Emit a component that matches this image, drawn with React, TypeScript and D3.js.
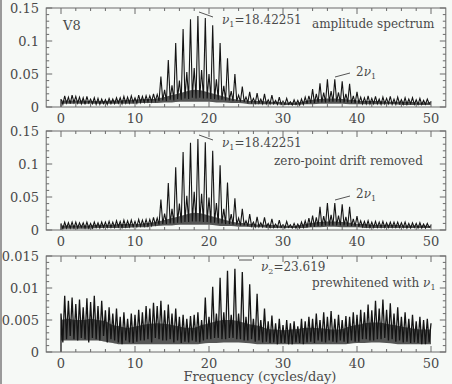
import React from 'react';
import * as d3 from 'd3';

// Frequency grid for the traces: 0 .. 50 c/d in steps of 0.25
const FREQ_STEP = 0.25;

// Panel 1: amplitude spectrum (units of 0.001)
const ampSpectrum = [
  12,4,17,6, 15,5,18,7, 16,6,15,5, 14,4,16,6, 12,5,14,4,
  13,4,12,5, 11,4,13,5, 12,5,14,6, 14,5,16,6, 15,6,17,7,
  14,6,18,7, 16,7,17,8, 17,8,20,9, 19,9,46,10, 26,9,71,11,
  33,10,97,12, 40,11,118,13, 53,12,133,14, 59,13,138,14, 56,13,135,13,
  50,12,124,12, 42,11,97,11, 32,10,74,10, 24,9,50,9, 18,8,31,8,
  15,7,23,7, 13,6,21,6, 12,5,20,5, 11,5,18,5, 10,4,15,4,
  9,4,13,4, 8,3,11,4, 10,3,12,4, 15,5,17,6, 27,6,20,7,
  36,7,22,7, 42,8,24,8, 42,8,22,7, 39,7,20,7, 35,6,17,6,
  23,6,15,5, 14,5,17,5, 13,5,16,5, 12,4,15,5, 13,5,16,4,
  12,4,15,5, 11,4,14,4, 12,5,14,4, 11,4,13,4, 10,4,12,5,
  8,
];

// Panel 2: zero-point drift removed (units of 0.001)
const driftRemoved = [
  10,2,12,3, 11,3,12,3, 12,3,11,4, 11,3,12,3, 10,3,12,4,
  11,3,12,4, 12,4,13,4, 12,4,14,5, 13,4,15,5, 14,5,15,5,
  13,5,16,6, 15,6,16,6, 16,7,19,8, 18,8,46,9, 25,9,71,10,
  32,10,95,11, 40,11,118,12, 52,12,132,13, 58,13,138,13, 55,12,133,12,
  49,11,120,11, 41,10,98,10, 32,9,72,9, 24,8,48,8, 18,7,32,7,
  14,6,24,6, 12,5,20,5, 11,5,19,5, 10,4,17,4, 9,4,15,4,
  8,3,13,4, 8,3,10,3, 9,3,12,4, 14,4,18,5, 22,5,19,6,
  35,6,21,7, 41,7,23,7, 41,7,22,7, 39,7,20,6, 35,6,17,6,
  21,5,14,5, 13,5,14,4, 12,4,13,4, 12,4,13,4, 11,4,12,4,
  12,4,12,4, 11,4,12,3, 10,3,11,4, 10,3,11,3, 9,3,10,4,
  7,
];

// Panel 3: prewhitened with nu1 (units of 0.0001)
const prewhitened = [
  60,15,88,20, 80,25,85,20, 75,18,82,22, 70,20,84,15, 78,22,88,20,
  72,18,80,25, 65,15,70,20, 60,18,68,15, 55,12,62,18, 52,15,60,14,
  58,16,66,18, 62,18,72,20, 68,15,77,22, 72,20,80,18, 65,18,74,20,
  60,15,68,18, 55,14,58,16, 52,15,56,18, 58,16,62,15, 50,18,85,20,
  55,20,102,22, 60,22,116,20, 62,20,127,22, 58,22,130,20, 60,20,125,18,
  55,18,106,20, 52,16,91,18, 50,15,68,16, 48,14,57,15, 45,12,52,14,
  42,14,50,12, 45,12,48,15, 40,14,52,12, 48,15,55,16, 52,14,60,18,
  50,16,62,15, 55,18,64,16, 52,15,58,18, 50,16,56,14, 55,18,62,16,
  58,16,66,20, 62,20,74,18, 65,18,80,20, 68,20,82,22, 66,18,76,20,
  60,16,70,18, 55,15,62,16, 52,14,58,15, 48,14,55,12, 50,12,52,15,
  45,
];

// Dense (unresolved) core of each spectrum, read per 1 c/d, 0..50
const coreHiA = [10,10,10,10,9,9,9,10,10,11,11,12,12,13,15,18,21,24,26,25,22,19,16,13,11,10,9,9,8,8,7,7,7,9,11,12,13,13,12,11,10,9,9,9,8,8,8,8,7,7,7];
const coreLoA = [5,5,5,5,5,5,5,5,5,5,5,6,6,6,7,7,8,8,8,8,8,7,7,6,6,5,4,4,4,4,3,3,3,4,4,5,5,5,5,4,4,4,4,4,4,4,3,3,3,3,3];
const coreHiB = [7,7,7,7,7,8,8,8,9,9,9,10,11,13,15,18,21,24,26,25,22,19,16,13,11,10,9,8,8,7,7,6,7,9,11,12,13,13,12,11,9,9,8,8,8,8,7,7,7,7,6];
const coreLoB = [2,2,2,2,2,3,3,3,3,3,4,4,5,6,7,7,8,8,8,8,8,7,6,6,5,5,4,4,3,3,3,3,3,3,4,4,5,5,4,4,4,3,3,3,3,3,3,3,3,3,3];
const coreHiC = [50,52,50,50,52,50,48,42,40,38,40,42,44,45,44,42,40,38,38,42,45,48,50,50,48,45,42,40,36,35,34,35,36,38,38,37,36,35,36,40,42,45,46,46,44,42,40,38,36,35,35];
const coreLoC = [18,18,18,18,18,18,16,14,12,12,12,12,12,12,12,12,12,12,12,13,14,14,15,15,15,14,13,12,12,12,12,12,12,12,12,12,12,12,12,13,14,14,15,15,14,13,12,12,12,12,12];

const xTickValues = [0, 10, 20, 30, 40, 50];
const yTicksBig = [0, 0.05, 0.1, 0.15];
const yTickLabelsBig = ['0', '0.05', '0.1', '0.15'];
const yTicksSmall = [0, 0.005, 0.01, 0.015];
const yTickLabelsSmall = ['0', '0.005', '0.01', '0.015'];

const W = 452;
const H = 384;
const FONT = '"DejaVu Serif", serif';
const TXT = '#4a4a4a';
const BG = '#f6f9f6';
const AXIS = '#6a6a6a';

const x = d3.scaleLinear().domain([0, 50]).range([61, 431]);
const frameL = x(-2);
const frameR = x(52);

type PanelDef = {
  top: number;
  bottom: number;
  yMax: number;
  unit: number;
  data: number[];
  coreHi: number[];
  coreLo: number[];
  stroke: number;
  majorY: number;
  minorY: number;
  yTicks: number[];
  yLabels: string[];
};

const panels: PanelDef[] = [
  { top: 8, bottom: 107, yMax: 0.15, unit: 0.001, data: ampSpectrum, coreHi: coreHiA, coreLo: coreLoA, stroke: 1.1, majorY: 0.05, minorY: 0.01, yTicks: yTicksBig, yLabels: yTickLabelsBig },
  { top: 131, bottom: 230, yMax: 0.15, unit: 0.001, data: driftRemoved, coreHi: coreHiB, coreLo: coreLoB, stroke: 1.1, majorY: 0.05, minorY: 0.01, yTicks: yTicksBig, yLabels: yTickLabelsBig },
  { top: 256, bottom: 352, yMax: 0.015, unit: 0.0001, data: prewhitened, coreHi: coreHiC, coreLo: coreLoC, stroke: 1.3, majorY: 0.005, minorY: 0.001, yTicks: yTicksSmall, yLabels: yTickLabelsSmall },
];

function Panel({ p }: { p: PanelDef }) {
  const y = d3.scaleLinear().domain([0, p.yMax]).range([p.bottom, p.top]);
  const pts = [0, ...p.data];
  const path = d3
    .line<number>()
    .x((_, i) => x(Math.max(0, (i - 1) * FREQ_STEP)))
    .y((v) => y(v * p.unit))(pts);
  const core = d3
    .area<number>()
    .x((_, i) => x(i))
    .y0((_, i) => y(p.coreLo[i] * p.unit))
    .y1((v) => y(v * p.unit))
    .curve(d3.curveMonotoneX)(p.coreHi);

  const xMinor = d3.range(0, 50.001, 2);
  const nMinorY = Math.round(p.yMax / p.minorY);
  const yMinor = d3.range(0, nMinorY + 1).map((k) => k * p.minorY);
  const perMajor = Math.round(p.majorY / p.minorY);

  return (
    <g>
      <path d={core || ''} fill="#111" fillOpacity={0.7} stroke="none" />
      <path d={path || ''} fill="none" stroke="#141414" strokeWidth={p.stroke} strokeLinejoin="miter" />
      <rect x={frameL} y={p.top} width={frameR - frameL} height={p.bottom - p.top} fill="none" stroke={AXIS} strokeWidth={1} />
      {xMinor.map((f) => {
        const major = Math.abs(f % 10) < 1e-6;
        const len = major ? 6 : 3;
        return (
          <g key={'xt' + f}>
            <line x1={x(f)} x2={x(f)} y1={p.top} y2={p.top + len} stroke={AXIS} />
            <line x1={x(f)} x2={x(f)} y1={p.bottom} y2={p.bottom - len} stroke={AXIS} />
          </g>
        );
      })}
      {yMinor.map((v, k) => {
        const len = k % perMajor === 0 ? 6 : 3;
        return (
          <g key={'yt' + k}>
            <line x1={frameL} x2={frameL + len} y1={y(v)} y2={y(v)} stroke={AXIS} />
            <line x1={frameR} x2={frameR - len} y1={y(v)} y2={y(v)} stroke={AXIS} />
          </g>
        );
      })}
      {p.yTicks.map((v, i) => (
        <text key={'yl' + i} x={39} y={y(v)} dy="0.35em" textAnchor="end" fontFamily={FONT} fontSize={13} fill={TXT}>
          {p.yLabels[i]}
        </text>
      ))}
      {xTickValues.map((f) => (
        <text key={'xl' + f} x={x(f)} y={p.bottom + 11} dy="0.35em" textAnchor="middle" fontFamily={FONT} fontSize={13} fill={TXT}>
          {f}
        </text>
      ))}
    </g>
  );
}

function Nu({ sub, rest, xPos, yPos }: { sub: string; rest: string; xPos: number; yPos: number }) {
  return (
    <text x={xPos} y={yPos} fontFamily={FONT} fontSize={12} fill={TXT}>
      <tspan fontStyle="italic">ν</tspan>
      <tspan dy={3} fontSize={8}>{sub}</tspan>
      <tspan dy={-3}>{rest}</tspan>
    </text>
  );
}

export default function App() {
  return (
    <svg width={W} height={H} style={{ position: 'absolute', left: 0, top: 0 }}>
      <rect x={0} y={0} width={W} height={H} fill={BG} />
      <rect x={0} y={0} width={2} height={H} fill="#9a9a9a" />
      {panels.map((p, i) => (
        <Panel key={i} p={p} />
      ))}

      {/* panel 1 annotations */}
      <text x={63} y={30} fontFamily={FONT} fontSize={13} fill={TXT}>V8</text>
      <line x1={199} y1={12} x2={213} y2={17} stroke="#555" />
      <Nu sub="1" rest="=18.42251" xPos={222} yPos={24} />
      <text x={312} y={28} fontFamily={FONT} fontSize={12} fill={TXT}>amplitude spectrum</text>
      <line x1={335} y1={77} x2={350} y2={73} stroke="#555" />
      <text x={356} y={76} fontFamily={FONT} fontSize={12} fill={TXT}>
        <tspan>2</tspan>
        <tspan fontStyle="italic">ν</tspan>
        <tspan dy={3} fontSize={8}>1</tspan>
      </text>

      {/* panel 2 annotations */}
      <line x1={199} y1={135} x2={213} y2={140} stroke="#555" />
      <Nu sub="1" rest="=18.42251" xPos={222} yPos={147} />
      <text x={274} y={165} fontFamily={FONT} fontSize={12} fill={TXT}>zero-point drift removed</text>
      <line x1={335} y1={200} x2={350} y2={196} stroke="#555" />
      <text x={356} y={198} fontFamily={FONT} fontSize={12} fill={TXT}>
        <tspan>2</tspan>
        <tspan fontStyle="italic">ν</tspan>
        <tspan dy={3} fontSize={8}>1</tspan>
      </text>

      {/* panel 3 annotations */}
      <line x1={239} y1={260} x2={252} y2={260} stroke="#555" />
      <Nu sub="2" rest="=23.619" xPos={261} yPos={271} />
      <text x={312} y={287} fontFamily={FONT} fontSize={12} fill={TXT}>
        <tspan>prewhitened with </tspan>
        <tspan fontStyle="italic">ν</tspan>
        <tspan dy={3} fontSize={8}>1</tspan>
      </text>

      <text x={260} y={381} textAnchor="middle" fontFamily={FONT} fontSize={13} fill={TXT}>
        Frequency (cycles/day)
      </text>
    </svg>
  );
}
